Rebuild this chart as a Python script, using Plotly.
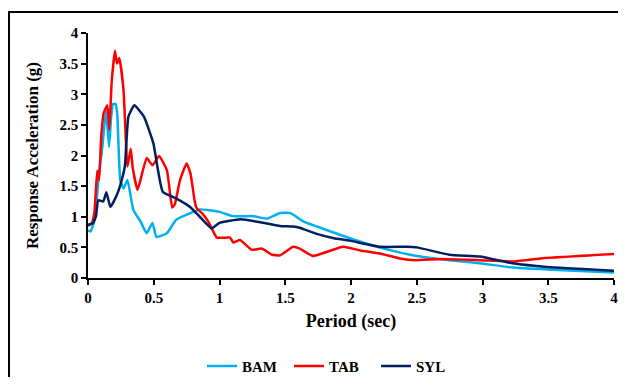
import plotly.graph_objects as go

bam_t = [0, 0.02, 0.05, 0.075, 0.09, 0.1, 0.109, 0.137, 0.16, 0.175, 0.19, 0.21, 0.223, 0.245, 0.27, 0.30, 0.345, 0.40, 0.446, 0.49, 0.52, 0.60, 0.67, 0.78, 0.85, 1.0, 1.1, 1.26, 1.36, 1.46, 1.54, 1.64, 1.74, 1.99, 2.25, 2.50, 2.75, 2.98, 3.23, 3.49, 4.0]
bam_sa = [0.78, 0.76, 0.95, 1.5, 1.84, 1.98, 2.14, 2.74, 2.14, 2.6, 2.84, 2.84, 2.66, 1.6, 1.46, 1.6, 1.11, 0.92, 0.73, 0.90, 0.67, 0.73, 0.95, 1.06, 1.12, 1.08, 1.01, 1.01, 0.97, 1.06, 1.06, 0.92, 0.84, 0.65, 0.48, 0.36, 0.29, 0.24, 0.17, 0.14, 0.09]

tab_t = [0, 0.03, 0.05, 0.07, 0.085, 0.1, 0.12, 0.147, 0.162, 0.18, 0.205, 0.22, 0.238, 0.27, 0.30, 0.325, 0.34, 0.377, 0.446, 0.49, 0.54, 0.60, 0.64, 0.66, 0.70, 0.75, 0.78, 0.81, 0.826, 0.87, 0.915, 0.98, 1.08, 1.105, 1.156, 1.245, 1.32, 1.40, 1.46, 1.56, 1.61, 1.71, 1.94, 2.07, 2.22, 2.37, 2.49, 2.68, 2.98, 3.23, 3.44, 4.0]
tab_sa = [0.85, 0.9, 1.1, 1.75, 1.6, 2.3, 2.7, 2.82, 2.42, 3.2, 3.71, 3.5, 3.59, 3.07, 1.82, 2.11, 1.8, 1.44, 1.96, 1.84, 1.99, 1.76, 1.15, 1.2, 1.6, 1.87, 1.7, 1.27, 1.14, 1.05, 0.92, 0.66, 0.66, 0.58, 0.62, 0.46, 0.48, 0.38, 0.37, 0.51, 0.48, 0.36, 0.51, 0.45, 0.40, 0.32, 0.29, 0.31, 0.29, 0.27, 0.32, 0.39]

syl_t = [0, 0.035, 0.06, 0.078, 0.116, 0.14, 0.17, 0.22, 0.25, 0.28, 0.307, 0.352, 0.426, 0.497, 0.568, 0.67, 0.776, 0.85, 0.94, 1.0, 1.16, 1.36, 1.46, 1.56, 1.61, 1.74, 1.87, 1.99, 2.22, 2.42, 2.50, 2.75, 2.98, 3.23, 3.49, 4.0]
syl_sa = [0.87, 0.89, 1.0, 1.27, 1.25, 1.40, 1.16, 1.36, 1.55, 1.82, 2.63, 2.82, 2.63, 2.2, 1.41, 1.30, 1.16, 1.0, 0.81, 0.90, 0.96, 0.89, 0.85, 0.84, 0.82, 0.72, 0.65, 0.61, 0.51, 0.51, 0.50, 0.38, 0.35, 0.24, 0.18, 0.12]

tick_vals = [0, 0.5, 1, 1.5, 2, 2.5, 3, 3.5, 4]
tick_text = ["0", "0.5", "1", "1.5", "2", "2.5", "3", "3.5", "4"]

series = [("BAM", bam_t, bam_sa, "#00B0F0"),
          ("TAB", tab_t, tab_sa, "#FF0000"),
          ("SYL", syl_t, syl_sa, "#002060")]

fig = go.Figure()
for name, t, sa, col in series:
    fig.add_trace(go.Scatter(x=t, y=sa, name=name, mode="lines",
                             line=dict(color=col, width=2.5, shape="spline", smoothing=0.4)))

FF = "Liberation Serif"
def bold(size):
    return dict(family=FF, size=size, color="black", weight="bold")

axis_common = dict(range=[0, 4], tickvals=tick_vals, ticktext=tick_text,
                   showgrid=False, zeroline=False, showline=True, linecolor="black", linewidth=1.5,
                   ticks="outside", ticklen=5, tickcolor="black", tickwidth=1.5,
                   tickfont=bold(15), automargin=False, ticklabeloverflow="allow")

# figure sits inside the page's 8px body margin
W, H = 610, 369
L, T, R, B = 80, 25, 4, 99
PW, PH = W - L - R, H - T - B

fig.update_layout(
    width=W, height=H,
    margin=dict(l=L, r=R, t=T, b=B, autoexpand=False),
    plot_bgcolor="white", paper_bgcolor="white",
    font=bold(15),
    showlegend=True,
    legend=dict(orientation="h", x=(194 - L) / PW, y=-0.36,
                xanchor="left", yanchor="middle",
                font=bold(15), entrywidth=42, entrywidthmode="pixels", itemwidth=30,
                bgcolor="rgba(0,0,0,0)"),
    xaxis=dict(**axis_common,
               title=dict(text="Period (sec)", font=bold(18), standoff=10)),
    yaxis=dict(**axis_common,
               title=dict(text="Response Acceleration (g)", font=bold(17), standoff=17)),
)

fig.add_shape(type="rect", xref="paper", yref="paper",
              x0=(1 - L) / PW, x1=1.05, y0=-0.6, y1=1 + (T - 4) / PH,
              line=dict(color="black", width=2), fillcolor="rgba(0,0,0,0)", layer="below")

fig.write_html("out.html")
